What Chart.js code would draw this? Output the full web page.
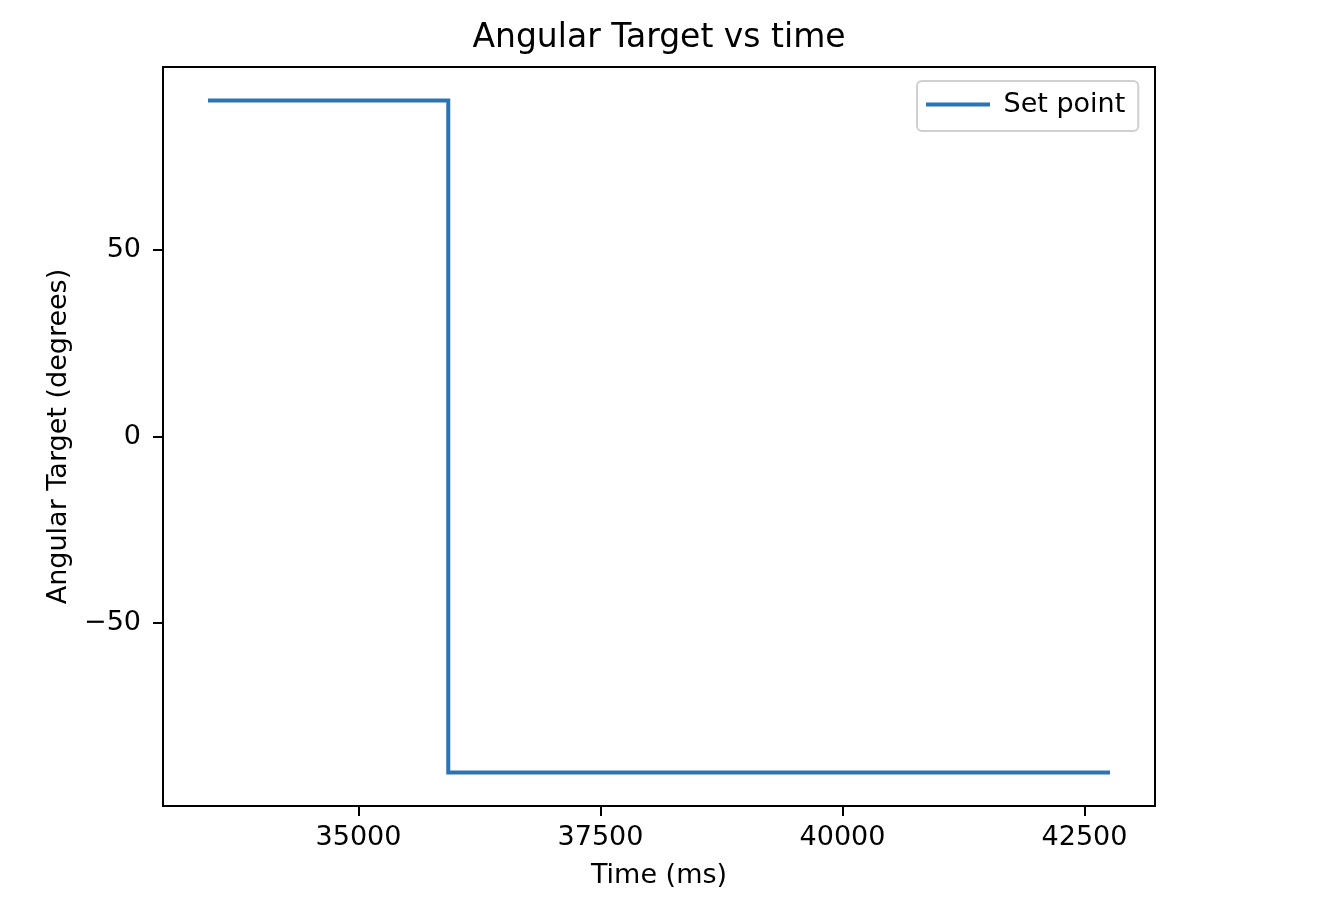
<!DOCTYPE html>
<html>
<head>
<meta charset="utf-8">
<script src="https://cdn.jsdelivr.net/npm/chart.js@4.4.1/dist/chart.umd.min.js"></script>
<style>
  body { margin: 0; background: #fff; }
  canvas { display: block; }
</style>
</head>
<body>
<canvas id="chart" width="1332" height="898"></canvas>
<script>
// step set point: 90 deg then -90 deg
const timeMs = [33445, 35927, 35927, 42763];
const setPoint = [90, 90, -90, -90];
const xTicks = [35000, 37500, 40000, 42500];
const yTicks = [-50, 0, 50];

Chart.defaults.font.family = "'DejaVu Sans', sans-serif";
Chart.defaults.color = '#000';

const frame = {
  id: 'frame',
  afterLayout(chart) {
    // put the legend inside the axes, top right
    const lg = chart.legend;
    const w = lg.width, h = lg.height;
    lg.left = 926;
    lg.top = 91;
    lg.right = lg.left + w;
    lg.bottom = lg.top + h;
  },
  afterDraw(chart) {
    const { ctx, chartArea: a } = chart;
    ctx.save();
    ctx.strokeStyle = '#000';
    ctx.lineWidth = 2;
    ctx.strokeRect(a.left, a.top, a.right - a.left, a.bottom - a.top);

    const hb = chart.legend.legendHitBoxes[0];
    if (hb) {
      const cy = chart.legend.top + 13.5;
      const x0 = hb.left - 9, x1 = hb.left + hb.width + 13;
      const y0 = cy - 23.5, y1 = cy + 26.5;
      ctx.strokeStyle = '#d0d0d0';
      ctx.lineWidth = 2;
      ctx.beginPath();
      ctx.roundRect(x0, y0, x1 - x0, y1 - y0, 5);
      ctx.stroke();
    }
    ctx.restore();
  }
};

const ctx = document.getElementById('chart');

new Chart(ctx, {
  type: 'line',
  data: {
    datasets: [{
      label: 'Set point',
      data: timeMs.map((t, i) => ({ x: t, y: setPoint[i] })),
      borderColor: '#2a74b4',
      backgroundColor: '#2a74b4',
      borderWidth: 4,
      pointRadius: 0,
      tension: 0
    }]
  },
  plugins: [frame],
  options: {
    responsive: false,
    animation: false,
    layout: { padding: { left: 0, right: 14, top: 0, bottom: 0 } },
    plugins: {
      title: {
        display: true,
        text: 'Angular Target vs time',
        color: '#000',
        font: { size: 33, weight: 'normal' },
        padding: { top: 19, bottom: 8.4 }
      },
      legend: {
        position: 'chartArea',
        align: 'start',
        labels: {
          usePointStyle: true,
          pointStyle: 'line',
          pointStyleWidth: 64,
          padding: 0,
          color: '#000',
          font: { size: 27 }
        }
      },
      tooltip: { enabled: false }
    },
    scales: {
      x: {
        type: 'linear',
        min: 32980,
        max: 43228,
        afterFit: s => { s.height = 92; },
        afterBuildTicks: s => { s.ticks = xTicks.map(v => ({ value: v })); },
        ticks: {
          padding: 6,
          font: { size: 27 },
          color: '#000',
          maxRotation: 0,
          callback: v => String(v)
        },
        grid: {
          drawOnChartArea: false,
          drawTicks: true,
          tickLength: 10,
          tickColor: '#000',
          lineWidth: 2
        },
        border: { display: false },
        title: {
          display: true,
          text: 'Time (ms)',
          color: '#000',
          font: { size: 27 },
          padding: { top: 0, bottom: 6 }
        }
      },
      y: {
        min: -99,
        max: 99,
        afterFit: s => { s.width = 163; },
        afterBuildTicks: s => { s.ticks = yTicks.map(v => ({ value: v })); },
        ticks: {
          padding: 12,
          font: { size: 27 },
          color: '#000',
          callback: v => (v < 0 ? '\u2212' + Math.abs(v) : String(v))
        },
        grid: {
          drawOnChartArea: false,
          drawTicks: true,
          tickLength: 10,
          tickColor: '#000',
          lineWidth: 2
        },
        border: { display: false },
        title: {
          display: true,
          text: 'Angular Target (degrees)',
          color: '#000',
          font: { size: 27 },
          padding: { top: 43, bottom: 0 }
        }
      },
      y2: {
        position: 'right',
        display: true,
        afterFit: s => { s.width = 163; },
        ticks: { display: false },
        grid: { display: false },
        border: { display: false }
      }
    }
  }
});
</script>
</body>
</html>
